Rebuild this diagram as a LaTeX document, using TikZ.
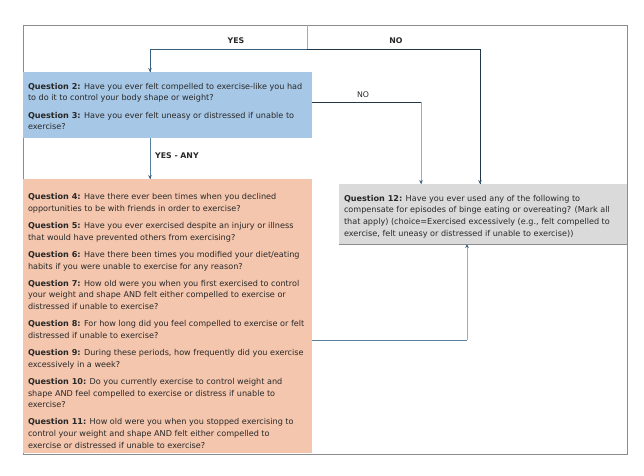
\documentclass[tikz,border=0pt]{standalone}
\usepackage{fontspec}
\setmainfont{DejaVu Sans}
\usetikzlibrary{arrows.meta,calc}
\definecolor{qblue}{RGB}{166,199,230}
\definecolor{qorange}{RGB}{244,198,173}
\definecolor{qgray}{RGB}{218,218,218}
\definecolor{framegray}{RGB}{140,140,140}
\definecolor{txt}{RGB}{40,40,40}
\definecolor{darkline}{RGB}{35,55,70}
\definecolor{tealline}{RGB}{55,95,125}
\definecolor{steelline}{RGB}{85,128,158}
\definecolor{lightsteel}{RGB}{145,175,198}
\definecolor{arrowblue}{RGB}{60,100,135}
\tikzset{
  box/.style={inner sep=0pt, outer sep=0pt, anchor=north west},
  qtext/.style={inner sep=0pt, outer sep=0pt, anchor=west, align=left, text=txt,
    font=\fontsize{8.1}{11.7}\selectfont},
  lbl/.style={inner sep=0pt, text=txt, font=\fontsize{7.8}{9}\selectfont\bfseries},
  arr/.style={-{Stealth[length=4pt,width=3.6pt]}},
  conn/.style={line width=0.9pt},
}
\begin{document}
\begin{tikzpicture}[x=1pt,y=-1pt]
\useasboundingbox (0,0) rectangle (644,475);
% frame
\draw[framegray, line width=0.9pt] (23,25) rectangle (627,454);

% boxes
\node[box, fill=qblue, minimum width=289pt, minimum height=66pt] (q23) at (23,72) {};
\node[box, fill=qorange, minimum width=289pt, minimum height=274pt] (q411) at (23,179) {};
\node[box, fill=qgray, minimum width=288pt, minimum height=60pt] (q12) at (339,184) {};
\draw[framegray, line width=0.8pt] (q12.south west) -- (q12.south east);

% texts
\node[qtext] (t23) at ($(q23.west)+(5,1.5)$) {%
\textbf{Question 2:} Have you ever felt compelled to exercise-like you had\\
to do it to control your body shape or weight?\\[5.4pt]
\textbf{Question 3:} Have you ever felt uneasy or distressed if unable to\\
exercise?};

\node[qtext] (t411) at ($(q411.west)+(5,5)$) {%
\textbf{Question 4:} Have there ever been times when you declined\\
opportunities to be with friends in order to exercise?\\[5.4pt]
\textbf{Question 5:} Have you ever exercised despite an injury or illness\\
that would have prevented others from exercising?\\[5.4pt]
\textbf{Question 6:} Have there been times you modified your diet/eating\\
habits if you were unable to exercise for any reason?\\[5.4pt]
\textbf{Question 7:} How old were you when you first exercised to control\\
your weight and shape AND felt either compelled to exercise or\\
distressed if unable to exercise?\\[5.4pt]
\textbf{Question 8:} For how long did you feel compelled to exercise or felt\\
distressed if unable to exercise?\\[5.4pt]
\textbf{Question 9:} During these periods, how frequently did you exercise\\
excessively in a week?\\[5.4pt]
\textbf{Question 10:} Do you currently exercise to control weight and\\
shape AND feel compelled to exercise or distress if unable to\\
exercise?\\[5.4pt]
\textbf{Question 11:} How old were you when you stopped exercising to\\
control your weight and shape AND felt either compelled to\\
exercise or distressed if unable to exercise?};

\node[qtext] (t12) at ($(q12.west)+(5,2.5)$) {%
\textbf{Question 12:} Have you ever used any of the following to\\
compensate for episodes of binge eating or overeating? (Mark all\\
that apply) (choice=Exercised excessively (e.g., felt compelled to\\
exercise, felt uneasy or distressed if unable to exercise))};

% connector coordinates
\coordinate (top) at (307,25);
\coordinate (split) at (307,49);
\coordinate (yesin) at ($(q23.north west)+(127,0)$);
\coordinate (noin) at ($(q12.north west)+(141,0)$);
\coordinate (q23out) at ($(q23.north east)+(0,30)$);
\coordinate (nocorner) at ($(q12.north west)+(82,-82)$);
\coordinate (no2in) at ($(q12.north west)+(82,0)$);
\coordinate (anyout) at ($(q23.south west)+(127,0)$);
\coordinate (anyin) at ($(q411.north west)+(127,0)$);
\coordinate (oout) at ($(q411.north east)+(0,161)$);
\coordinate (ocorner) at ($(q12.south west)+(128,96)$);
\coordinate (oin) at ($(q12.south west)+(128,0)$);

% top split
\draw[lightsteel, line width=0.7pt] (top) -- (split);
\draw[conn, tealline] (split) -| (yesin);
\draw[arr, arrowblue, line width=0.9pt] ($(yesin)+(0,-3)$) -- (yesin);
\draw[conn, darkline] (split) -| (noin);
\draw[arr, arrowblue, line width=0.9pt] ($(noin)+(0,-3)$) -- (noin);
\node[lbl] (yes) at (236,41) {YES};
\node[lbl] (no) at (396,41) {NO};

% Q2/Q3 -> Q12 (NO)
\draw[conn, darkline] (q23out) -- (nocorner);
\draw[conn, lightsteel] (nocorner) -- (no2in);
\draw[arr, arrowblue, line width=0.9pt] ($(no2in)+(0,-3)$) -- (no2in);
\node[lbl, font=\fontsize{7.8}{9}\selectfont] (no2) at (363,95) {NO};

% Q2/Q3 -> Q4-11 (YES - ANY)
\draw[conn, steelline] (anyout) -- (anyin);
\draw[arr, arrowblue, line width=0.9pt] ($(anyin)+(0,-3)$) -- (anyin);
\node[lbl, anchor=west] (yesany) at (155,156) {YES - ANY};

% Q4-11 -> Q12
\draw[conn, steelline] (oout) -- (ocorner);
\draw[conn, lightsteel] (ocorner) -- (oin);
\draw[arr, arrowblue, line width=0.9pt] ($(oin)+(0,3)$) -- (oin);
\end{tikzpicture}
\end{document}
